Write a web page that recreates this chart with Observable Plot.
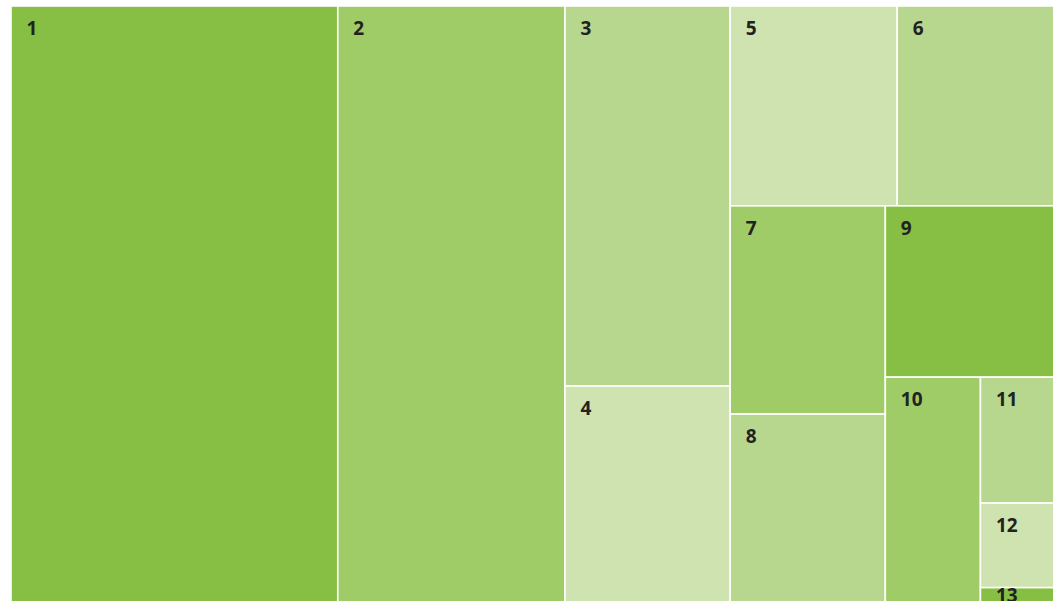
<!DOCTYPE html>
<html>
<head>
<meta charset="utf-8">
<script src="https://cdn.jsdelivr.net/npm/d3@7"></script>
<script src="https://cdn.jsdelivr.net/npm/@observablehq/plot@0.6"></script>
<style>
  html, body { margin: 0; padding: 0; background: #fff; overflow: hidden; }
  #chart { width: 1053px; height: 601px; overflow: hidden; }
  #chart svg { display: block; max-width: none; }
</style>
</head>
<body>
<div id="chart"></div>
<script>
// Leaf categories and their values (share of total, %)
const labels = ["1", "2", "3", "4", "5", "6", "7", "8", "9", "10", "11", "12", "13"];
const values = [31.33, 21.78, 10.10, 5.74, 5.37, 5.04, 5.20, 4.69, 4.65, 3.44, 1.49, 1.00, 0.17];
// colour shade group of each leaf (0 = darkest ... 3 = lightest)
const shades = [0, 1, 2, 3, 3, 2, 1, 2, 0, 1, 2, 3, 0];
// nesting of the treemap
const leafParents = ["root", "root", "g34", "g34", "g56", "g56", "g78", "g78", "r5", "r6", "g1113", "g1113", "g1113"];
const groupIds = ["root", "g34", "r3", "g56", "r4", "g78", "r5", "r6", "g1113"];
const groupParents = [null, "root", "root", "r3", "r3", "r4", "r4", "r5", "r6"];

const W = 1043, H = 596;

const rows = groupIds.map((id, i) => ({id, parent: groupParents[i], idx: Infinity}))
  .concat(labels.map((l, i) => ({id: "leaf" + l, parent: leafParents[i], label: l, value: values[i], shade: shades[i], idx: i})));

const root = d3.stratify().id(d => d.id).parentId(d => d.parent)(rows);
root.sum(d => d.value || 0);
root.eachAfter(n => { n.ord = n.children ? d3.min(n.children, c => c.ord) : n.data.idx; });
root.sort((a, b) => a.ord - b.ord);
d3.treemap().tile(d3.treemapSliceDice).size([W, H]).round(false)(root);
const leaves = root.leaves();

const plot = Plot.plot({
  width: 1054,
  height: 602,
  marginLeft: 11,
  marginTop: 6,
  marginRight: 0,
  marginBottom: 0,
  x: {domain: [0, W], axis: null},
  y: {domain: [0, H], reverse: true, axis: null},
  color: {type: "ordinal", domain: [0, 1, 2, 3], range: ["#86bf43", "#9fcc66", "#b7d78e", "#cfe3b1"]},
  style: {fontFamily: "'Open Sans', sans-serif", background: "#fff"},
  marks: [
    Plot.rect(leaves, {
      x1: d => d.x0, x2: d => d.x1, y1: d => d.y0, y2: d => d.y1,
      fill: d => d.data.shade,
      stroke: "#ffffff", strokeWidth: 1.6
    }),
    Plot.text(leaves, {
      x: d => d.x0,
      y: d => Math.min(d.y0 + 22.5, (d.y0 + d.y1) / 2 + 1),
      text: d => d.data.label,
      dx: 15,
      textAnchor: "start",
      fontWeight: 700,
      fontSize: 19,
      fill: "#222222"
    })
  ]
});
document.getElementById("chart").appendChild(plot);
</script>
</body>
</html>
